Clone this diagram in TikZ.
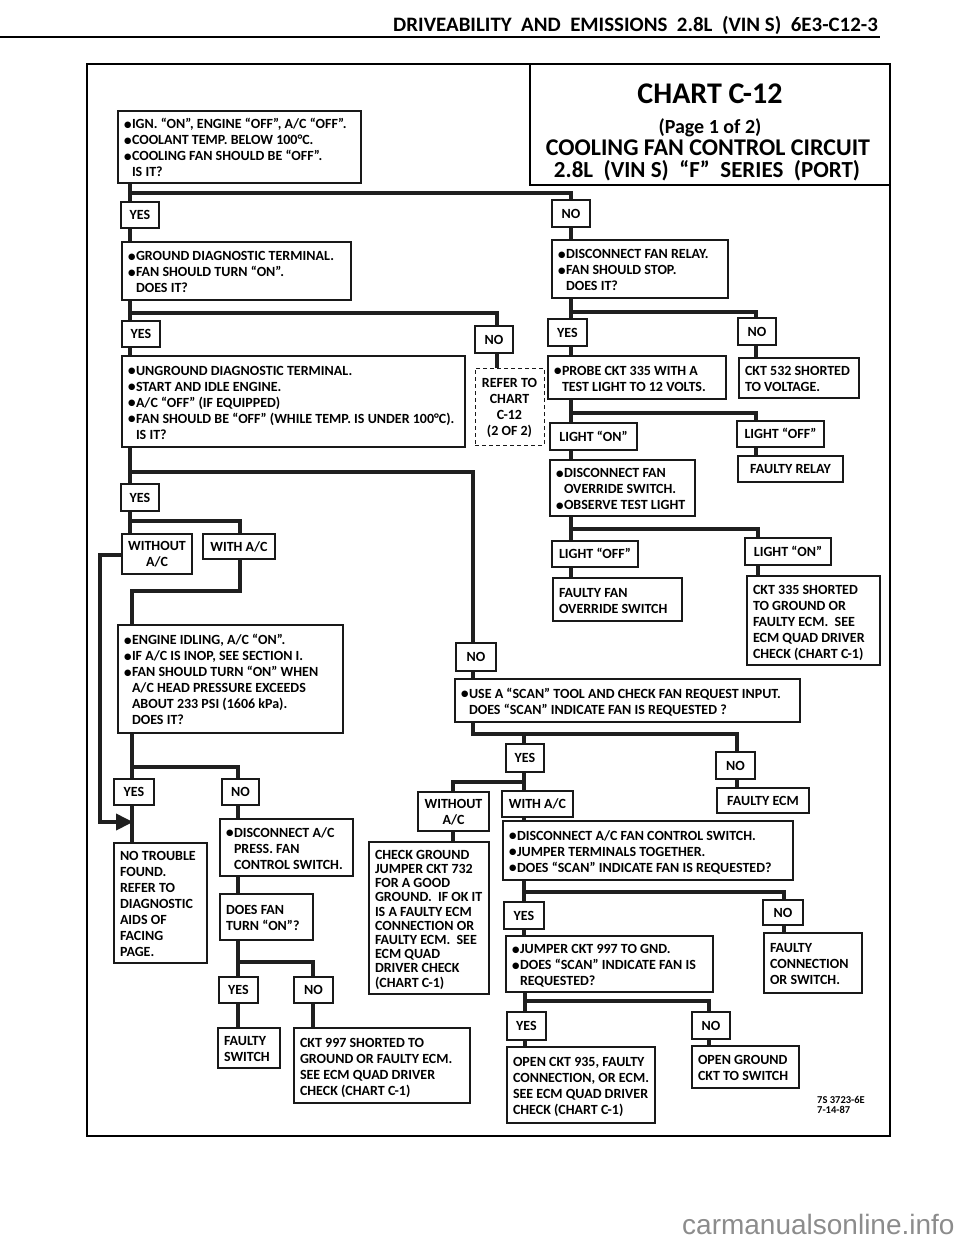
\documentclass[tikz,border=0pt]{standalone}
\usepackage{fontspec}
\setmainfont{Carlito}
\newfontfamily\dejavu{DejaVu Sans}
\newfontfamily\wmfont{Liberation Sans}
\usetikzlibrary{arrows.meta}
\pgfdeclarelayer{bg}
\pgfsetlayers{bg,main}
\newcommand\bul{\makebox[8pt][l]{\raisebox{1.4pt}{\dejavu\fontsize{8.5}{10}\selectfont ●}}}
\newcommand\ind{\hspace*{8pt}}
\newcommand\BX[7][]{%
  \pgfmathsetmacro\bxw{#5-#3}\pgfmathsetmacro\bxh{#6-#4}\pgfmathsetmacro\bxt{#5-#3-12}%
  \node[bx,minimum width=\bxw pt,minimum height=\bxh pt,#1] (#2) at (#3,#4)
    {\makebox[\bxt pt][l]{\raisebox{-2.5pt}[\height][\depth]{\begin{tabular}{@{}l@{}}#7\end{tabular}}}};}
\newcommand\LB[7][]{%
  \pgfmathsetmacro\bxw{#5-#3}\pgfmathsetmacro\bxh{#6-#4}\pgfmathsetmacro\bxt{#5-#3-8}%
  \node[bx,inner xsep=4pt,minimum width=\bxw pt,minimum height=\bxh pt,#1] (#2) at (#3,#4)
    {\makebox[\bxt pt][c]{\raisebox{-1.5pt}[\height][\depth]{\begin{tabular}{@{}c@{}}#7\end{tabular}}}};}
\tikzset{
  bx/.style={draw=black!90, line width=1.2pt, fill=white, anchor=north west,
    inner xsep=6pt, inner ysep=0pt, outer sep=0pt,
    font=\bfseries\fontsize{14}{16}\selectfont},
  conn/.style={line width=3.8pt, draw=black!88},
  ttl/.style={anchor=base, inner sep=0pt, font=\bfseries},
}
\begin{document}
\begin{tikzpicture}[x=1pt,y=-1pt]
\useasboundingbox (0,0) rectangle (960,1242);
% header
\node[anchor=base east, inner sep=0pt, font=\bfseries\fontsize{20.5}{20}\selectfont] (hdr) at (878,31)
  {\scalebox{1.02}[1]{DRIVEABILITY~ AND~ EMISSIONS~ 2.8L~ (VIN S)~ 6E3-C12-3}};
\draw[line width=2pt] (0,37) -- (880,37);
% frame
\draw[line width=2.2pt] (87,64) rectangle (890,1136);
% title
\node[draw, line width=1.4pt, anchor=north west, minimum width=360pt, minimum height=121pt, inner sep=0pt, outer sep=0pt] (title) at (530,64) {};
\node[ttl, font=\bfseries\fontsize{30}{30}\selectfont] (t1) at (710,103) {CHART C-12};
\node[ttl, font=\bfseries\fontsize{20}{20}\selectfont] (t2) at (710,133) {(Page 1 of 2)};
\node[ttl, font=\bfseries\fontsize{24}{24}\selectfont] (t3) at (708,155) {COOLING FAN CONTROL CIRCUIT};
\node[ttl, font=\bfseries\fontsize{23}{23}\selectfont] (t4) at (707,177) {2.8L~ (VIN S)~ “F”~ SERIES~ (PORT)};

% ---------- boxes ----------
\BX{ign}{118}{111}{361}{183}{\bul IGN. “ON”, ENGINE “OFF”, A/C “OFF”.\\ \bul COOLANT TEMP. BELOW 100°C.\\ \bul COOLING FAN SHOULD BE “OFF”.\\ \ind IS IT?}
\LB{yesA}{121}{202}{159}{228}{YES}
\LB{noA}{552}{200}{590}{227}{NO}
\BX{ground}{122}{242}{351}{300}{\bul GROUND DIAGNOSTIC TERMINAL.\\ \bul FAN SHOULD TURN “ON”.\\ \ind DOES IT?}
\BX{disrelay}{552}{240}{728}{298}{\bul DISCONNECT FAN RELAY.\\ \bul FAN SHOULD STOP.\\ \ind DOES IT?}
\LB{yesB}{122}{321}{160}{347}{YES}
\LB{noB}{475}{326}{513}{353}{NO}
\BX{unground}{122}{356}{465}{447}{\bul UNGROUND DIAGNOSTIC TERMINAL.\\ \bul START AND IDLE ENGINE.\\ \bul A/C “OFF” (IF EQUIPPED)\\ \bul FAN SHOULD BE “OFF” (WHILE TEMP. IS UNDER 100°C).\\ \ind IS IT?}
\LB[dash pattern=on 4pt off 3pt, line width=1pt]{refer}{475}{368}{544}{445}{REFER TO\\ CHART\\ C-12\\ (2 OF 2)}
\LB{yesC}{548}{319}{587}{346}{YES}
\LB{noC}{738}{318}{776}{345}{NO}
\BX{probe}{548}{356}{726}{399}{\bul PROBE CKT 335 WITH A\\ \ind TEST LIGHT TO 12 VOLTS.}
\BX{ckt532}{739}{358}{859}{398}{CKT 532 SHORTED\\ TO VOLTAGE.}
\LB{lighton1}{550}{423}{637}{450}{LIGHT “ON”}
\LB{lightoff1}{737}{421}{824}{447}{LIGHT “OFF”}
\LB{faultyrelay}{738}{456}{843}{482}{FAULTY RELAY}
\BX{override}{550}{460}{695}{516}{\bul DISCONNECT FAN\\ \ind OVERRIDE SWITCH.\\ \bul OBSERVE TEST LIGHT}
\LB{lightoff2}{552}{541}{638}{567}{LIGHT “OFF”}
\LB{lighton2}{745}{538}{831}{565}{LIGHT “ON”}
\BX{faultyfan}{553}{578}{682}{621}{FAULTY FAN\\ OVERRIDE SWITCH}
\BX{ckt335}{747}{576}{880}{665}{CKT 335 SHORTED\\ TO GROUND OR\\ FAULTY ECM.\ \ SEE\\ ECM QUAD DRIVER\\ CHECK (CHART C-1)}
\LB{yesD}{121}{484}{159}{511}{YES}
\LB{withoutA}{122}{534}{192}{574}{WITHOUT\\ A/C}
\LB{withA}{203}{534}{275}{559}{WITH A/C}
\BX{engine}{118}{625}{343}{733}{\bul ENGINE IDLING, A/C “ON”.\\ \bul IF A/C IS INOP, SEE SECTION I.\\ \bul FAN SHOULD TURN “ON” WHEN\\ \ind A/C HEAD PRESSURE EXCEEDS\\ \ind ABOUT 233 PSI (1606 kPa).\\ \ind DOES IT?}
\LB{noD}{456}{643}{496}{671}{NO}
\BX{scan}{455}{679}{800}{722}{\bul USE A “SCAN” TOOL AND CHECK FAN REQUEST INPUT.\\ \ind DOES “SCAN” INDICATE FAN IS REQUESTED ?}
\LB{yesE}{114}{779}{154}{805}{YES}
\LB{noE}{222}{779}{259}{805}{NO}
\BX{notrouble}{114}{843}{207}{963}{NO TROUBLE\\ FOUND.\\ REFER TO\\ DIAGNOSTIC\\ AIDS OF\\ FACING\\ PAGE.}
\BX{disac}{220}{819}{353}{876}{\bul DISCONNECT A/C\\ \ind PRESS. FAN\\ \ind CONTROL SWITCH.}
\BX{doesfan}{220}{894}{313}{940}{DOES FAN\\ TURN “ON”?}
\LB{yesF}{219}{977}{258}{1003}{YES}
\LB{noF}{294}{977}{333}{1003}{NO}
\BX{faultysw}{218}{1028}{280}{1068}{FAULTY\\ SWITCH}
\BX{ckt997}{294}{1028}{470}{1103}{CKT 997 SHORTED TO\\ GROUND OR FAULTY ECM.\\ SEE ECM QUAD DRIVER\\ CHECK (CHART C-1)}
\LB{yesG}{506}{744}{544}{772}{YES}
\LB{noG}{716}{752}{755}{779}{NO}
\LB{faultyecm}{717}{788}{809}{813}{FAULTY ECM}
\LB{withoutB}{418}{792}{489}{831}{WITHOUT\\ A/C}
\LB{withB}{502}{791}{573}{817}{WITH A/C}
\BX[font=\bfseries\fontsize{14}{14.2}\selectfont, inner xsep=5pt]{checkground}{369}{842}{489}{994}{CHECK GROUND\\ JUMPER CKT 732\\ FOR A GOOD\\ GROUND.\ \ IF OK IT\\ IS A FAULTY ECM\\ CONNECTION OR\\ FAULTY ECM.\ \ SEE\\ ECM QUAD\\ DRIVER CHECK\\ (CHART C-1)}
\BX{disfan}{503}{821}{793}{880}{\bul DISCONNECT A/C FAN CONTROL SWITCH.\\ \bul JUMPER TERMINALS TOGETHER.\\ \bul DOES “SCAN” INDICATE FAN IS REQUESTED?}
\LB{yesH}{504}{902}{544}{929}{YES}
\LB{noH}{763}{900}{803}{925}{NO}
\BX{jumper}{506}{936}{713}{992}{\bul JUMPER CKT 997 TO GND.\\ \bul DOES “SCAN” INDICATE FAN IS\\ \ind REQUESTED?}
\BX{faultyconn}{764}{933}{862}{993}{FAULTY\\ CONNECTION\\ OR SWITCH.}
\LB{yesI}{507}{1012}{546}{1040}{YES}
\LB{noI}{692}{1012}{730}{1039}{NO}
\BX{openckt}{507}{1047}{655}{1123}{OPEN CKT 935, FAULTY\\ CONNECTION, OR ECM.\\ SEE ECM QUAD DRIVER\\ CHECK (CHART C-1)}
\BX{openground}{692}{1046}{799}{1088}{OPEN GROUND\\ CKT TO SWITCH}
% code
\node[anchor=base west, inner sep=0pt, align=left, font=\bfseries\fontsize{10.5}{9.5}\selectfont] (code) at (817,1113) {7S 3723-6E\\7-14-87};
% watermark
\node[anchor=base west, inner sep=0pt, text=black!45, font=\wmfont\fontsize{28}{28}\selectfont] (wm) at (682,1234) {carmanualsonline.info};

% ---------- connectors ----------
\begin{pgfonlayer}{bg}
\coordinate (c1) at (130,193); \coordinate (c2) at (571,193);
\draw[conn] (ign.south -| c1) -- (ground.north -| c1);
\draw[conn] (c1) -- (c2) -- (disrelay.north -| c2);
\coordinate (c3) at (130,313); \coordinate (c4) at (497,313);
\draw[conn] (ground.south -| c3) -- (unground.north -| c3);
\draw[conn] (c3) -- (c4) -- (refer.north -| c4);
\coordinate (c5) at (571,312); \coordinate (c6) at (756,312);
\draw[conn] (disrelay.south -| c5) -- (probe.north -| c5);
\draw[conn] (c5) -- (c6) -- (ckt532.north -| c6);
\coordinate (c7) at (571,413); \coordinate (c8) at (756,413);
\draw[conn] (probe.south -| c7) -- (override.north -| c7);
\draw[conn] (c7) -- (c8) -- (faultyrelay.north -| c8);
\coordinate (c9) at (571,529); \coordinate (c10) at (758,529);
\draw[conn] (override.south -| c9) -- (faultyfan.north -| c9);
\draw[conn] (c9) -- (c10) -- (ckt335.north -| c10);
\coordinate (c11) at (130,472); \coordinate (c12) at (473,472);
\draw[conn] (unground.south -| c11) -- (withoutA.north -| c11);
\draw[conn] (c11) -- (c12) -- (scan.north -| c12);
\coordinate (c13) at (130,521); \coordinate (c14) at (240,521);
\draw[conn] (c13) -- (c14) -- (withA.north -| c14);
\coordinate (c15) at (240,591); \coordinate (c16) at (132,591);
\draw[conn] (withA.south -| c15) -- (c15) -- (c16) -- (engine.north -| c16);
\coordinate (c17) at (100,555); \coordinate (c18) at (100,822); \coordinate (c19) at (133,822);
\draw[conn, -{Triangle[length=17pt,width=16pt]}] (withoutA.west |- c17) -- (c17) -- (c18) -- (c19);
\coordinate (c21) at (132,767); \coordinate (c22) at (238,767);
\draw[conn] (engine.south -| c21) -- (notrouble.north -| c21);
\draw[conn] (c21) -- (c22) -- (disac.north -| c22);
\draw[conn] (disac.south -| c22) -- (doesfan.north -| c22);
\coordinate (c23) at (238,962); \coordinate (c24) at (313,962);
\draw[conn] (doesfan.south -| c23) -- (faultysw.north -| c23);
\draw[conn] (c23) -- (c24) -- (ckt997.north -| c24);
\coordinate (c25) at (473,734); \coordinate (c26) at (737,734);
\coordinate (c27) at (524,734); \coordinate (c28) at (524,782); \coordinate (c29) at (453,782);
\draw[conn] (scan.south -| c25) -- (c25) -- (c26) -- (faultyecm.north -| c26);
\draw[conn] (c27) -- (disfan.north -| c27);
\draw[conn] (c28) -- (c29) -- (checkground.north -| c29);
\coordinate (c30) at (524,892); \coordinate (c31) at (784,892);
\draw[conn] (disfan.south -| c30) -- (jumper.north -| c30);
\draw[conn] (c30) -- (c31) -- (faultyconn.north -| c31);
\coordinate (c32) at (525,1001); \coordinate (c33) at (709,1001);
\draw[conn] (jumper.south -| c32) -- (openckt.north -| c32);
\draw[conn] (c32) -- (c33) -- (openground.north -| c33);
\end{pgfonlayer}
\end{tikzpicture}
\end{document}
